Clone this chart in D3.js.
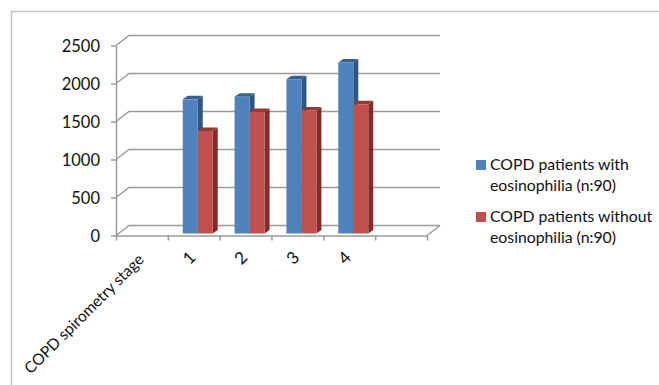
<!DOCTYPE html>
<html>
<head>
<meta charset="utf-8">
<script src="https://cdnjs.cloudflare.com/ajax/libs/d3/7.8.5/d3.min.js"></script>
<style>
  html, body { margin: 0; padding: 0; background: #fff; }
  text { font-family: Lato, "Open Sans", sans-serif; fill: #111; }
</style>
</head>
<body>
<div id="chart"></div>
<script>
const categories = ['COPD spirometry stage', '1', '2', '3', '4', ''];
const withEos = [null, 1765, 1800, 2030, 2250, null];
const withoutEos = [null, 1350, 1600, 1620, 1700, null];
const yTicks = [0, 500, 1000, 1500, 2000, 2500];

const width = 659, height = 385;
const plotLeft = 116, plotRight = 427, plotTop = 45.5, plotBottom = 235.5;
const depthX = 13, depthY = -10;      // back wall offset
const barDepthX = 5, barDepthY = -3.5;
const barW = 15;

const svg = d3.select('#chart').append('svg')
  .attr('width', width)
  .attr('height', height)
  .style('display', 'block');

const x = d3.scaleBand().domain(categories).range([plotLeft, plotRight]);
const y = d3.scaleLinear().domain([0, 2500]).range([plotBottom, plotTop]);
const edges = d3.scaleLinear().domain([0, categories.length]).range([plotLeft, plotRight]);

// outer frame
svg.append('path')
  .attr('d', 'M11.5,385V11.5H659')
  .attr('fill', 'none')
  .attr('stroke', '#c4c4c4')
  .attr('stroke-width', 1.5);

// walls
const wall = svg.append('g').attr('fill', 'none').attr('stroke', '#9a9a9a').attr('stroke-width', 1.5);
yTicks.forEach(t => {
  wall.append('path')
    .attr('d', `M${plotLeft},${y(t)}l${depthX},${depthY}H${plotRight + depthX}`);
});
wall.append('path')
  .attr('d', `M${plotRight + depthX},${y(0) + depthY}l${-depthX},${-depthY}`);

// axes
const yAxis = d3.axisLeft(y).tickValues(yTicks).tickSize(5).tickPadding(11).tickSizeOuter(0).tickFormat(d3.format('d'));
const gy = svg.append('g').attr('transform', `translate(${plotLeft},0)`).call(yAxis);
gy.selectAll('text').attr('font-size', 16.5).style('font-family', 'Lato, sans-serif').attr('dy', '0.36em');

const xAxis = d3.axisBottom(edges).ticks(categories.length).tickSize(5).tickSizeOuter(0).tickFormat('');
svg.append('g').attr('transform', `translate(0,${plotBottom})`).call(xAxis);

svg.selectAll('.domain, .tick line')
  .attr('stroke', '#9a9a9a')
  .attr('stroke-width', 1.5);

// category labels, rotated
svg.append('g').selectAll('text')
  .data(categories)
  .join('text')
  .attr('text-anchor', 'end')
  .attr('font-size', d => d.length > 1 ? 15.6 : 17)
  .attr('transform', d => `translate(${x(d) + x.bandwidth() / 2 + 3},${plotBottom + (d.length > 1 ? 25 : 23)}) rotate(-45)`)
  .text(d => d);

// bars
const colors = [
  { front: '#4f81bd', side: '#2f5581', top: '#38608f' },
  { front: '#c0504d', side: '#7f2e2c', top: '#943735' }
];
const rows = categories.map((c, i) => ({ c, vals: [withEos[i], withoutEos[i]] }))
  .filter(r => r.vals[0] !== null);

const barX = (c, s) => x(c) + (x.bandwidth() - 2 * barW) / 2 + 4 + s * barW;
const base = y(0) - 2;

[0, 1].forEach(s => {
  const g = svg.append('g');
  rows.forEach(r => {
    const x0 = barX(r.c, s), x1 = x0 + barW, yt = y(r.vals[s]) - 2;
    g.append('path')
      .attr('fill', colors[s].side)
      .attr('d', `M${x1},${yt}l${barDepthX},${barDepthY}V${base + barDepthY}l${-barDepthX},${-barDepthY}Z`);
    g.append('path')
      .attr('fill', colors[s].top)
      .attr('d', `M${x0},${yt}l${barDepthX},${barDepthY}H${x1 + barDepthX}l${-barDepthX},${-barDepthY}Z`);
    g.append('rect')
      .attr('x', x0).attr('y', yt)
      .attr('width', barW).attr('height', base - yt)
      .attr('fill', colors[s].front);
  });
});

// legend
const legendLines = [
  ['COPD patients with', 'eosinophilia (n:90)'],
  ['COPD patients without', 'eosinophilia (n:90)']
];
const legend = svg.append('g');
legendLines.forEach((lines, i) => {
  const ly = 165 + i * 52;
  legend.append('rect')
    .attr('x', 476).attr('y', ly - 5)
    .attr('width', 10).attr('height', 10)
    .attr('fill', colors[i].front);
  lines.forEach((t, j) => {
    legend.append('text')
      .attr('x', 490).attr('y', ly + 5 + j * 20.5)
      .attr('font-size', 15.8)
      .text(t);
  });
});
</script>
</body>
</html>
